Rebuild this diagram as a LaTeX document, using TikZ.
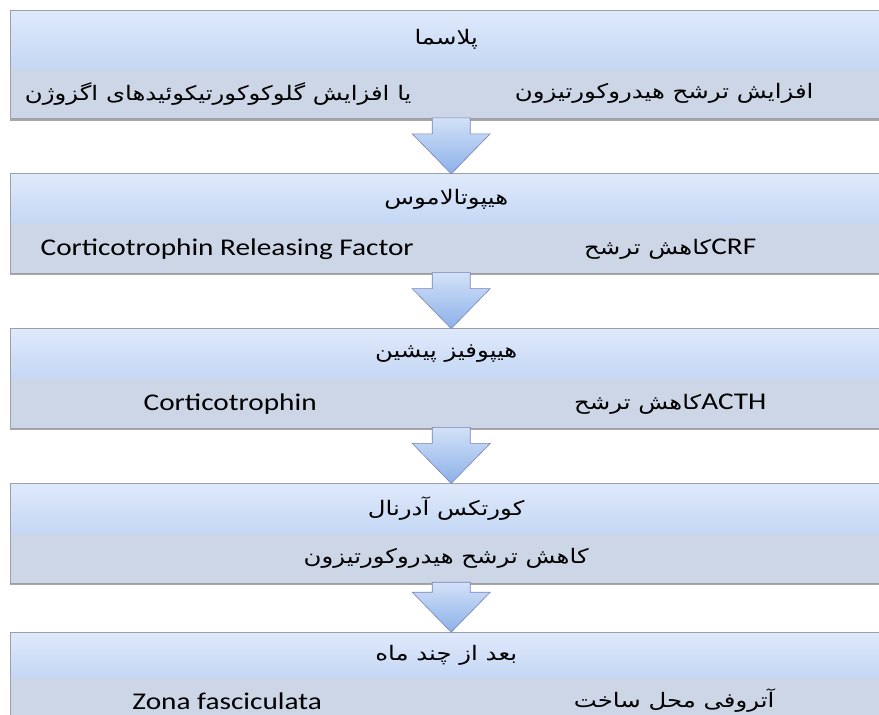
\documentclass[tikz,border=0pt]{standalone}
\usepackage{fontspec}
\setmainfont{Carlito}
\newfontfamily\arabicfont[Script=Arabic]{DejaVu Sans}
\TeXXeTstate=1
\usetikzlibrary{calc,positioning}
\definecolor{headtop}{HTML}{DFE9FB}
\definecolor{headbot}{HTML}{C4D7F4}
\definecolor{bodygray}{HTML}{CDD6E6}
\definecolor{framegray}{HTML}{9C9FA6}
\definecolor{arrtop}{HTML}{D2E1F8}
\definecolor{arrbot}{HTML}{8CB1E8}
\newcommand{\fa}[1]{{\arabicfont\beginR #1\endR}}
\newcommand{\la}[1]{{\rmfamily\fontsize{24}{28}\selectfont\beginL #1\endL}}

\begin{document}
\begin{tikzpicture}[x=1pt,y=-1pt,
  head/.style={rectangle,minimum width=872pt,minimum height=50pt,inner sep=0pt,
    top color=headtop,bottom color=headbot,anchor=north west},
  body/.style={rectangle,minimum width=872pt,minimum height=49pt,inner sep=0pt,fill=bodygray},
  frame/.style={draw=framegray,line width=0.8pt},
  shade line/.style={draw=black!35,line width=1.5pt},
  lat/.style={inner sep=0pt,xscale=1.22,transform shape,font=\fontsize{24}{28}\selectfont},
  per/.style={inner sep=0pt,xscale=1.22,transform shape,font=\arabicfont\fontsize{20}{24}\selectfont},
  blockarrow/.style={draw=framegray!80!blue,line width=0.6pt,top color=arrtop,bottom color=arrbot}]
	\useasboundingbox (0,0) rectangle (879,715);

	\node[head,minimum height=58pt]	(h1) at (10,10)			{};
	\node[body,minimum height=50pt]	(b1) [below=0pt of h1]	{};
	\node[head]						(h2) [below=55pt of b1]	{};
	\node[body]						(b2) [below=0pt of h2]	{};
	\node[head]						(h3) [below=55pt of b2]	{};
	\node[body]						(b3) [below=0pt of h3]	{};
	\node[head]						(h4) [below=55pt of b3]	{};
	\node[body]						(b4) [below=0pt of h4]	{};
	\node[head,minimum height=45pt]	(h5) [below=49pt of b4]	{};
	\node[body,minimum height=50pt]	(b5) [below=0pt of h5]	{};

	% frames and bottom shadow
	\foreach \i in {1,...,5} {
		\draw[shade line] ([yshift=-1pt]b\i.south west) -- ([yshift=-1pt]b\i.south east);
		\draw[frame] (h\i.north west) rectangle (b\i.south east);
	}

	% header titles
	\node[per] (t1) at (h1.center)	{\fa{پلاسما}};
	\node[per] (t2) at (h2.center)	{\fa{هیپوتالاموس}};
	\node[per] (t3) at (h3.center)	{\fa{هیپوفیز پیشین}};
	\node[per] (t4) at (h4.center)	{\fa{کورتکس آدرنال}};
	\node[per] (t5) at (h5.center)	{\fa{بعد از چند ماه}};

	% texts in the lower bands
	\node[per] (r1) at ($(b1.center)+(218,0)$)	{\fa{افزایش ترشح هیدروکورتیزون}};
	\node[per] (l1) at ($(b1.center)+(-228,0)$)	{\fa{یا افزایش گلوکوکورتیکوئیدهای اگزوژن}};
	\node[per] (r2) at ($(b2.center)+(224,0)$)	{\fa{\la{CRF}کاهش ترشح}};
	\node[lat] (l2) at ($(b2.center)+(-219,0)$)	{Corticotrophin Releasing Factor};
	\node[per] (r3) at ($(b3.center)+(224,0)$)	{\fa{\la{ACTH}کاهش ترشح}};
	\node[lat] (l3) at ($(b3.center)+(-216,0)$)	{Corticotrophin};
	\node[per] (c4) at (b4.center)					{\fa{کاهش ترشح هیدروکورتیزون}};
	\node[per] (r5) at ($(b5.center)+(228,-2)$)	{\fa{آتروفی محل ساخت}};
	\node[lat] (l5) at ($(b5.center)+(-219,-2)$)	{Zona fasciculata};

	% block arrows between the boxes
	\foreach \i/\j in {1/2,2/3,3/4,4/5}
		\draw[blockarrow] ($(b\i.south)+(-14,-1)$) -- ($(b\i.south)+(24,-1)$)
			-- ($(h\j.north)+(24,-40)$) -- ($(h\j.north)+(44,-40)$)
			-- ($(h\j.north)+(5,0)$) -- ($(h\j.north)+(-34,-40)$)
			-- ($(h\j.north)+(-14,-40)$) -- cycle;
\end{tikzpicture}
\end{document}
